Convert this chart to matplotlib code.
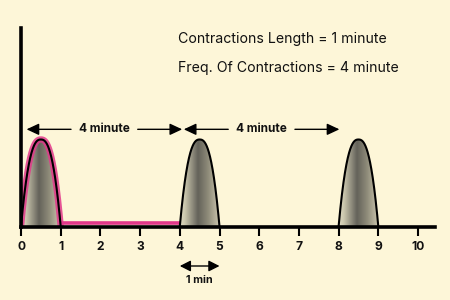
import numpy as np
import matplotlib
matplotlib.use("Agg")
import matplotlib.pyplot as plt
from matplotlib.colors import LinearSegmentedColormap
from matplotlib.patches import Polygon

# --- data -------------------------------------------------------------
tick_values = list(range(0, 11))
contraction_starts = [0, 4, 8]          # minutes
contraction_length = 1                  # minutes
peak_height = 1.0
highlight_end = 4                       # pink trace runs over first cycle
interval_spans = [(0.14, 4.06), (4.1, 8.02)]
interval_labels = ["4 minute", "4 minute"]
length_span = (4, 5)
length_label = "1 min"
info_lines = ["Contractions Length = 1 minute",
              "Freq. Of Contractions = 4 minute"]

# --- style ------------------------------------------------------------
BG = "#fdf6d8"
PINK = "#e2388a"
FONT = ["Inter", "DejaVu Sans"]
plt.rcParams["font.family"] = FONT

W, H = 450, 300
fig = plt.figure(figsize=(W / 100, H / 100), dpi=100, facecolor=BG)

px_per_min = 39.7
px_per_unit = 87.0
x0_px, y0_px, top_px, right_px = 21, 226.5, 28, 435
ax = fig.add_axes([x0_px / W, (H - y0_px) / H,
                   (right_px - x0_px) / W, (y0_px - top_px) / H])
ax.set_facecolor(BG)
xmax = (right_px - x0_px) / px_per_min
ymax = (y0_px - top_px) / px_per_unit

for s in ("top", "right"):
    ax.spines[s].set_visible(False)
for s in ("left", "bottom"):
    ax.spines[s].set_linewidth(2.6)
    ax.spines[s].set_color("black")
    ax.spines[s].set_zorder(6)
ax.set_yticks([])
ax.set_xticks(tick_values)
ax.set_xticklabels([str(v) for v in tick_values], fontsize=8.7,
                   fontweight="bold", color="#111111")
ax.tick_params(axis="x", direction="out", length=6.5, width=1.5, pad=4)

cmap = LinearSegmentedColormap.from_list(
    "shade",
    [(0.0, "#ddd9c0"), (0.12, "#cbc7ae"), (0.45, "#64625a"),
     (0.7, "#8e8b79"), (0.88, "#b5b09a"), (1.0, "#cdc8ad")])
grad = np.linspace(0, 1, 256).reshape(1, -1)


def bump(start):
    xs = np.linspace(start, start + contraction_length, 300)
    u = 2 * (xs - start) / contraction_length - 1
    ys = peak_height * (1 - np.abs(u) ** 2.5)
    return xs, ys


for i, start in enumerate(contraction_starts):
    xs, ys = bump(start)
    poly = Polygon(np.column_stack([xs, ys]), closed=True,
                   facecolor="none", edgecolor="none")
    ax.add_patch(poly)
    im = ax.imshow(grad, cmap=cmap, aspect="auto", interpolation="bilinear",
                   extent=[start, start + contraction_length, 0, peak_height],
                   zorder=2)
    im.set_clip_path(poly)
    if i == 0:
        ax.plot(xs, ys, color=PINK, lw=4.6, zorder=3,
                solid_capstyle="round", alpha=0.85)
    ax.plot(xs, ys, color="black", lw=1.5, zorder=4)

# pink trace along the resting phase
ax.plot([contraction_starts[0] + contraction_length, highlight_end],
        [0.035, 0.035], color=PINK, lw=2.6, zorder=3,
        solid_capstyle="butt")

ax.set_xlim(0, xmax)
ax.set_ylim(0, ymax)

# interval arrows with centred labels
arrow_y = 1.117
head = "-|>,head_length=0.75,head_width=0.35"
for (a, b), lab in zip(interval_spans, interval_labels):
    mid = (a + b) / 2
    half_gap = 0.84
    for end, side in ((a, -1), (b, 1)):
        ax.annotate("", xy=(end, arrow_y),
                    xytext=(mid + side * half_gap, arrow_y),
                    arrowprops=dict(arrowstyle=head, color="black", lw=1.0,
                                    shrinkA=0, shrinkB=0))
    ax.text(mid, arrow_y, lab, ha="center", va="center", fontsize=8.5,
            fontweight="bold", color="#111111")

# contraction length marker below the axis
ax.annotate("", xy=(length_span[0], -0.454), xytext=(length_span[1], -0.454),
            annotation_clip=False,
            arrowprops=dict(arrowstyle="<|-|>,head_length=0.65,head_width=0.33",
                            color="black", lw=1.0, shrinkA=0, shrinkB=0))
ax.text(sum(length_span) / 2, -0.62, length_label, ha="center", va="center",
        fontsize=7.8, fontweight="bold", color="#111111", clip_on=False)

# info text
for k, line in enumerate(info_lines):
    ax.text(3.95, 2.15 - k * 0.325, line, ha="left", va="center",
            fontsize=10.2, color="#111111")

fig.savefig("out.png", dpi=100, facecolor=BG)
